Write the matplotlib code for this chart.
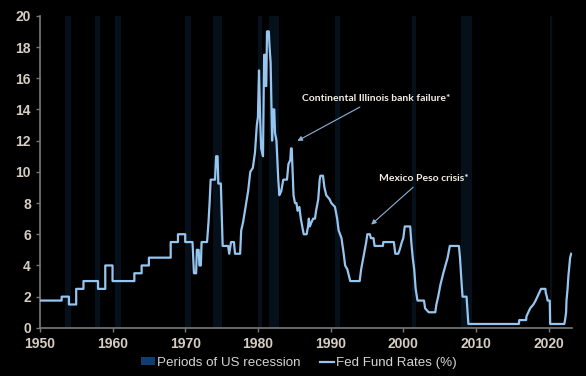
import matplotlib
matplotlib.use('Agg')
import matplotlib.pyplot as plt
from matplotlib.patches import Patch
from matplotlib.lines import Line2D

# ── Data ─────────────────────────────────────────────────────────────────────
years = [
    1950.0, 1953.0, 1953.0, 1954.0, 1954.0, 1955.0, 1955.0, 1956.0, 1956.0, 1958.0,
    1958.0, 1959.0, 1959.0, 1960.0, 1960.0, 1963.0, 1963.0, 1964.0, 1964.0, 1965.0,
    1965.0, 1968.0, 1968.0, 1969.0, 1969.0, 1970.0, 1970.0, 1971.0, 1971.2, 1971.5,
    1971.6, 1971.85, 1971.95, 1972.15, 1972.25, 1973.0, 1973.2, 1973.35, 1973.5, 1974.1,
    1974.25, 1974.45, 1974.55, 1974.9, 1975.15, 1975.9, 1976.05, 1976.3, 1976.7, 1976.85,
    1977.55, 1977.7, 1977.95, 1978.3, 1978.65, 1978.95, 1979.3, 1979.6, 1979.85, 1980.0,
    1980.15, 1980.3, 1980.45, 1980.7, 1980.85, 1981.0, 1981.05, 1981.15, 1981.25, 1981.5,
    1981.6, 1981.75, 1981.95, 1982.1, 1982.25, 1982.35, 1982.55, 1982.8, 1982.95, 1983.2,
    1983.5, 1984.0, 1984.2, 1984.45, 1984.55, 1984.65, 1984.9, 1985.1, 1985.3, 1985.45,
    1985.7, 1985.9, 1986.3, 1986.7, 1986.9, 1987.0, 1987.15, 1987.35, 1987.6, 1987.85,
    1988.0, 1988.3, 1988.5, 1988.6, 1988.95, 1989.15, 1989.4, 1989.85, 1990.1, 1990.6,
    1990.9, 1991.1, 1991.5, 1991.8, 1992.0, 1992.3, 1992.7, 1994.0, 1994.2, 1994.4,
    1994.6, 1994.9, 1995.05, 1995.4, 1995.55, 1995.9, 1996.05, 1997.2, 1997.25, 1998.7,
    1998.9, 1999.3, 1999.5, 1999.8, 2000.0, 2000.2, 2000.95, 2001.1, 2001.3, 2001.5,
    2001.7, 2001.95, 2002.85, 2003.0, 2003.5, 2004.4, 2004.55, 2004.8, 2005.1, 2005.5,
    2005.8, 2006.1, 2006.4, 2007.65, 2007.8, 2008.0, 2008.15, 2008.7, 2008.95, 2015.9,
    2015.95, 2016.9, 2016.95, 2017.2, 2017.45, 2017.9, 2018.2, 2018.45, 2018.7, 2018.95,
    2019.55, 2019.6, 2019.75, 2019.85, 2020.15, 2020.2, 2022.15, 2022.25, 2022.4, 2022.45,
    2022.6, 2022.7, 2022.85, 2022.95, 2023.1,
]
fed_rate = [
    1.75, 1.75, 2.0, 2.0, 1.5, 1.5, 2.5, 2.5, 3.0, 3.0,
    2.5, 2.5, 4.0, 4.0, 3.0, 3.0, 3.5, 3.5, 4.0, 4.0,
    4.5, 4.5, 5.5, 5.5, 6.0, 6.0, 5.5, 5.5, 3.5, 3.5,
    5.0, 5.0, 4.0, 4.0, 5.5, 5.5, 6.75, 8.0, 9.5, 9.5,
    11.0, 11.0, 9.25, 9.25, 5.25, 5.25, 4.75, 5.5, 5.5, 4.75,
    4.75, 6.25, 6.75, 7.75, 8.75, 10.0, 10.25, 11.25, 13.0, 13.5,
    16.5, 13.5, 11.5, 11.0, 17.5, 17.5, 15.5, 15.5, 19.0, 19.0,
    18.0, 17.0, 12.0, 14.0, 14.0, 12.5, 12.0, 9.5, 8.5, 8.75,
    9.5, 9.5, 10.5, 10.75, 11.5, 11.5, 8.5, 8.0, 8.0, 7.5,
    7.75, 7.0, 6.0, 6.0, 6.5, 7.0, 6.5, 6.75, 7.0, 7.0,
    7.5, 8.25, 9.5, 9.75, 9.75, 9.0, 8.5, 8.25, 8.0, 7.75,
    7.0, 6.25, 5.75, 4.75, 4.0, 3.75, 3.0, 3.0, 3.75, 4.25,
    4.75, 5.5, 6.0, 6.0, 5.75, 5.75, 5.25, 5.25, 5.5, 5.5,
    4.75, 4.75, 5.0, 5.5, 5.75, 6.5, 6.5, 5.5, 4.5, 3.75,
    2.5, 1.75, 1.75, 1.25, 1.0, 1.0, 1.5, 2.0, 2.75, 3.5,
    4.0, 4.5, 5.25, 5.25, 4.5, 3.0, 2.0, 2.0, 0.25, 0.25,
    0.5, 0.5, 0.75, 1.0, 1.25, 1.5, 1.75, 2.0, 2.25, 2.5,
    2.5, 2.25, 2.0, 1.75, 1.75, 0.25, 0.25, 0.5, 1.0, 1.75,
    2.5, 3.25, 4.0, 4.5, 4.75,
]

rec_start = [1953.5, 1957.65, 1960.3, 1969.95, 1973.85, 1980.0, 1981.55,
             1990.55, 2001.25, 2007.9, 2020.15]
rec_end = [1954.35, 1958.25, 1961.1, 1970.85, 1975.1, 1980.5, 1982.85,
           1991.25, 2001.8, 2009.4, 2020.4]

x_ticks = [1950, 1960, 1970, 1980, 1990, 2000, 2010, 2020]
y_ticks = [0, 2, 4, 6, 8, 10, 12, 14, 16, 18, 20]

# ── Styling ──────────────────────────────────────────────────────────────────
BG = 'black'
LINE = '#96c6ef'
BAND = '#05101b'
BAND_LEGEND = '#0f3d70'
TICK_TXT = '#d6cdc3'
SPINE = '#7a7a7a'

plt.rcParams['font.family'] = ['Liberation Sans', 'DejaVu Sans']

fig = plt.figure(figsize=(5.86, 3.76), dpi=100, facecolor=BG)
ax = fig.add_axes([0.068, 0.128, 0.908, 0.830], facecolor=BG)

for s, e in zip(rec_start, rec_end):
    ax.axvspan(s, e, color=BAND, lw=0, zorder=1)

ax.plot(years, fed_rate, color=LINE, lw=1.6, zorder=3)

ax.set_xlim(1950, 2023.2)
ax.set_ylim(0, 20)
ax.set_xticks(x_ticks)
ax.set_yticks(y_ticks)

for side in ('top', 'right'):
    ax.spines[side].set_visible(False)
for side in ('left', 'bottom'):
    ax.spines[side].set_color(SPINE)
    ax.spines[side].set_linewidth(1.2)

ax.tick_params(colors=SPINE, labelcolor=TICK_TXT, length=3, width=1,
               labelsize=10, direction='out')
for lbl in ax.get_xticklabels() + ax.get_yticklabels():
    lbl.set_fontweight('bold')

# ── Annotations ──────────────────────────────────────────────────────────────
arrow = dict(arrowstyle='-|>', color='#8fb2d4', lw=0.8, mutation_scale=7)
ax.annotate('Continental Illinois bank failure*',
            xy=(1985.1, 11.9), xytext=(1986.0, 14.7),
            color='#f2ece4', fontsize=7.5, fontweight='bold', family='Lato',
            ha='left', va='center', arrowprops=arrow, zorder=4)
ax.annotate('Mexico Peso crisis*',
            xy=(1995.3, 6.5), xytext=(1996.6, 9.6),
            color='#f2ece4', fontsize=7.5, fontweight='bold', family='Lato',
            ha='left', va='center', arrowprops=arrow, zorder=4)

# ── Legend ───────────────────────────────────────────────────────────────────
handles = [
    Patch(facecolor=BAND_LEGEND, edgecolor='none', label='Periods of US recession'),
    Line2D([0], [0], color=LINE, lw=1.6, label='Fed Fund Rates (%)'),
]
fig.legend(handles=handles, loc='center', bbox_to_anchor=(0.51, 0.035),
           ncol=2, frameon=False, fontsize=9.6, labelcolor='#d4d4d4',
           handlelength=1.1, handleheight=0.5, handletextpad=0.15,
           columnspacing=1.4)

fig.savefig('out.png', dpi=100, facecolor=BG)
